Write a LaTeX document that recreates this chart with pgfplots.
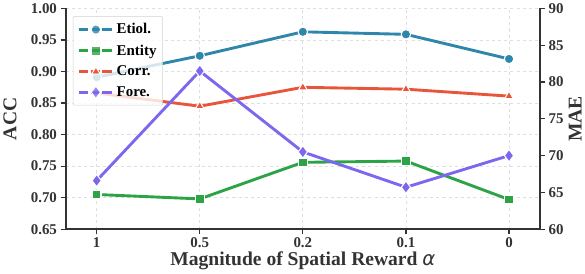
\documentclass[border=0pt]{standalone}
\usepackage{pgfplots}
\pgfplotsset{compat=1.18}
\usepackage{fontspec}
\setmainfont{Liberation Serif}
\newfontfamily\dejavu{DejaVu Sans}
\definecolor{cEt}{HTML}{2E86AB}
\definecolor{cEn}{HTML}{2CA345}
\definecolor{cCo}{HTML}{E8553A}
\definecolor{cFo}{HTML}{7B68EE}
\definecolor{spine}{HTML}{333333}
\pgfplotsset{
  legimg/.style={legend image code/.code={
    \draw[##1, dash pattern=on 9pt off 2.6pt] (0cm,0cm) -- (1.18cm,0cm);
    \path[##1] plot coordinates {(0.59cm,0cm)};
  }},
  sEt/.style={color=cEt, line width=2.8pt, mark=*, mark size=4.6pt, mark options={solid, draw=white, line width=1pt, fill=cEt}, legimg},
  sEn/.style={color=cEn, line width=2.8pt, mark=square*, mark size=4.2pt, mark options={solid, draw=white, line width=1pt, fill=cEn}, legimg},
  sCo/.style={color=cCo, line width=2.8pt, mark=triangle*, mark size=4.8pt, mark options={solid, draw=white, line width=1pt, fill=cCo}, legimg},
  sFo/.style={color=cFo, line width=2.8pt, mark=diamond*, mark size=6pt, mark options={solid, draw=white, line width=1pt, fill=cFo}, legimg},
  common/.style={
    scale only axis, width=459bp, height=213.6bp,
    xmin=-0.3, xmax=4.3,
    tick style={spine, line width=1.2pt},
    major tick length=5pt,
    tick align=outside,
    ticklabel style={font=\bfseries\fontsize{14.5}{14.5}\selectfont, text=spine},
    /pgf/number format/assume math mode=true,
    label style={font=\bfseries\fontsize{19}{19}\selectfont, text=spine},
  },
}
\begin{document}
\begin{tikzpicture}
\begin{axis}[common,
  axis x line*=bottom, axis y line*=left,
  axis line style={spine, line width=1.6pt, -},
  ymin=0.65, ymax=1.00,
  ytick={0.65,0.70,0.75,0.80,0.85,0.90,0.95,1.00},
  yticklabel style={/pgf/number format/.cd, fixed, fixed zerofill, precision=2},
  xtick={0,1,2,3,4}, xticklabels={1,0.5,0.2,0.1,0},
  grid=major, grid style={dashed, gray!25, line width=0.7pt},
  ylabel={ACC},
  xlabel={Magnitude of Spatial Reward {\dejavu\itshape\mdseries α}},
  xlabel style={yshift=3pt},
  ylabel style={yshift=7pt},
]
\addplot[sEt] coordinates {(0,0.891) (1,0.925) (2,0.963) (3,0.959) (4,0.920)};
\addplot[sEn] coordinates {(0,0.705) (1,0.698) (2,0.756) (3,0.758) (4,0.697)};
\addplot[sCo] coordinates {(0,0.866) (1,0.845) (2,0.875) (3,0.872) (4,0.861)};
\end{axis}
\begin{axis}[common,
  axis x line=none, axis y line*=right,
  axis line style={spine, line width=1.6pt, -},
  ymin=60, ymax=90, ytick={60,65,70,75,80,85,90},
  ylabel={MAE},
  ylabel style={yshift=2pt},
  legend style={at={(0.015,0.965)}, anchor=north west, draw=gray!35, fill=white, fill opacity=0.8, text opacity=1,
    font=\bfseries\fontsize{14.5}{14.5}\selectfont, row sep=5pt, inner xsep=4pt, inner ysep=5pt, rounded corners=1pt},
  legend cell align=left,
]
\addlegendimage{sEt}\addlegendentry{Etiol.}
\addlegendimage{sEn}\addlegendentry{Entity}
\addlegendimage{sCo}\addlegendentry{Corr.}
\addplot[sFo] coordinates {(0,66.6) (1,81.5) (2,70.5) (3,65.7) (4,70.0)};
\addlegendentry{Fore.}
\end{axis}
\end{tikzpicture}
\end{document}
